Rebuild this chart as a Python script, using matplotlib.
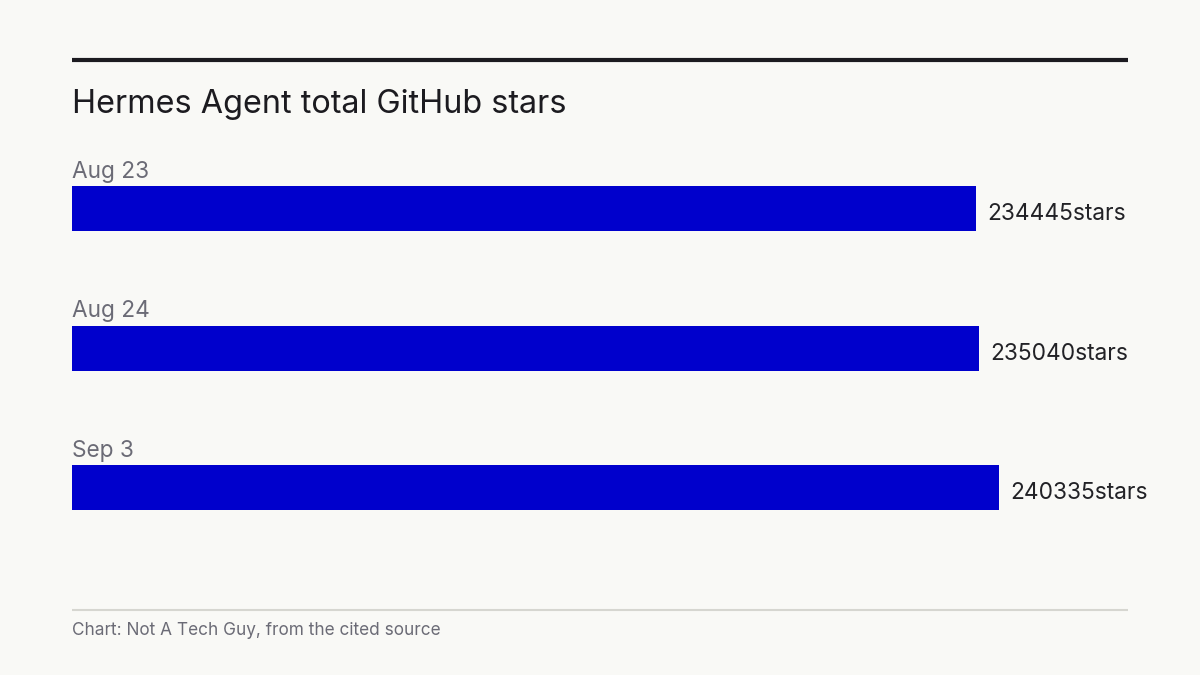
import matplotlib.pyplot as plt
from matplotlib.lines import Line2D

dates = ["Aug 23", "Aug 24", "Sep 3"]
stars = [234445, 235040, 240335]
title = "Hermes Agent total GitHub stars"
source = "Chart: Not A Tech Guy, from the cited source"

bg = "#f9f9f6"
bar_color = "#0000cc"
dark = "#1c1b20"
grey = "#6b6b76"

plt.rcParams["font.family"] = ["Inter", "DejaVu Sans"]

W, H = 1200, 675
fig = plt.figure(figsize=(12, 6.75), dpi=100)
fig.patch.set_facecolor(bg)

# axes spans pixel rows 150..560, columns 72..1128
top_px, bot_px = 150, 560
ax = fig.add_axes([72 / W, 1 - bot_px / H, 1056 / W, (bot_px - top_px) / H])
ax.set_facecolor(bg)

step = 139.5          # px between bar centres
first_c = 208.5       # px of first bar centre
bar_h = 45 / step

ypos = list(range(len(dates)))
ax.barh(ypos, stars, height=bar_h, color=bar_color)
ax.set_xlim(0, max(stars) * 1056 / 927)
ax.set_ylim((bot_px - first_c) / step, (top_px - first_c) / step)
ax.axis("off")

for i, (d, s) in enumerate(zip(dates, stars)):
    ax.text(0, i - bar_h / 2 - 8 / step, d, fontsize=16.3, color=grey,
            va="baseline", ha="left")
    ax.annotate(f"{s}stars", (s, i), xytext=(8.2, -8.3), textcoords="offset points",
                va="baseline", ha="left", fontsize=16.4, color="#222226")

# top rule and title
fig.add_artist(Line2D([72 / W, 1128 / W], [1 - 60 / H, 1 - 60 / H],
                      color=dark, lw=3, solid_capstyle="butt"))
fig.text(72 / W, 1 - 113 / H, title, fontsize=23.3, color=dark,
         va="baseline", ha="left")

# bottom rule and footer
fig.add_artist(Line2D([72 / W, 1128 / W], [1 - 609.5 / H, 1 - 609.5 / H],
                      color="#d6d6d0", lw=1.5, solid_capstyle="butt"))
fig.text(72 / W, 1 - 635 / H, source, fontsize=12.4, color=grey,
         va="baseline", ha="left")

fig.savefig("out.png", dpi=100, facecolor=bg)
